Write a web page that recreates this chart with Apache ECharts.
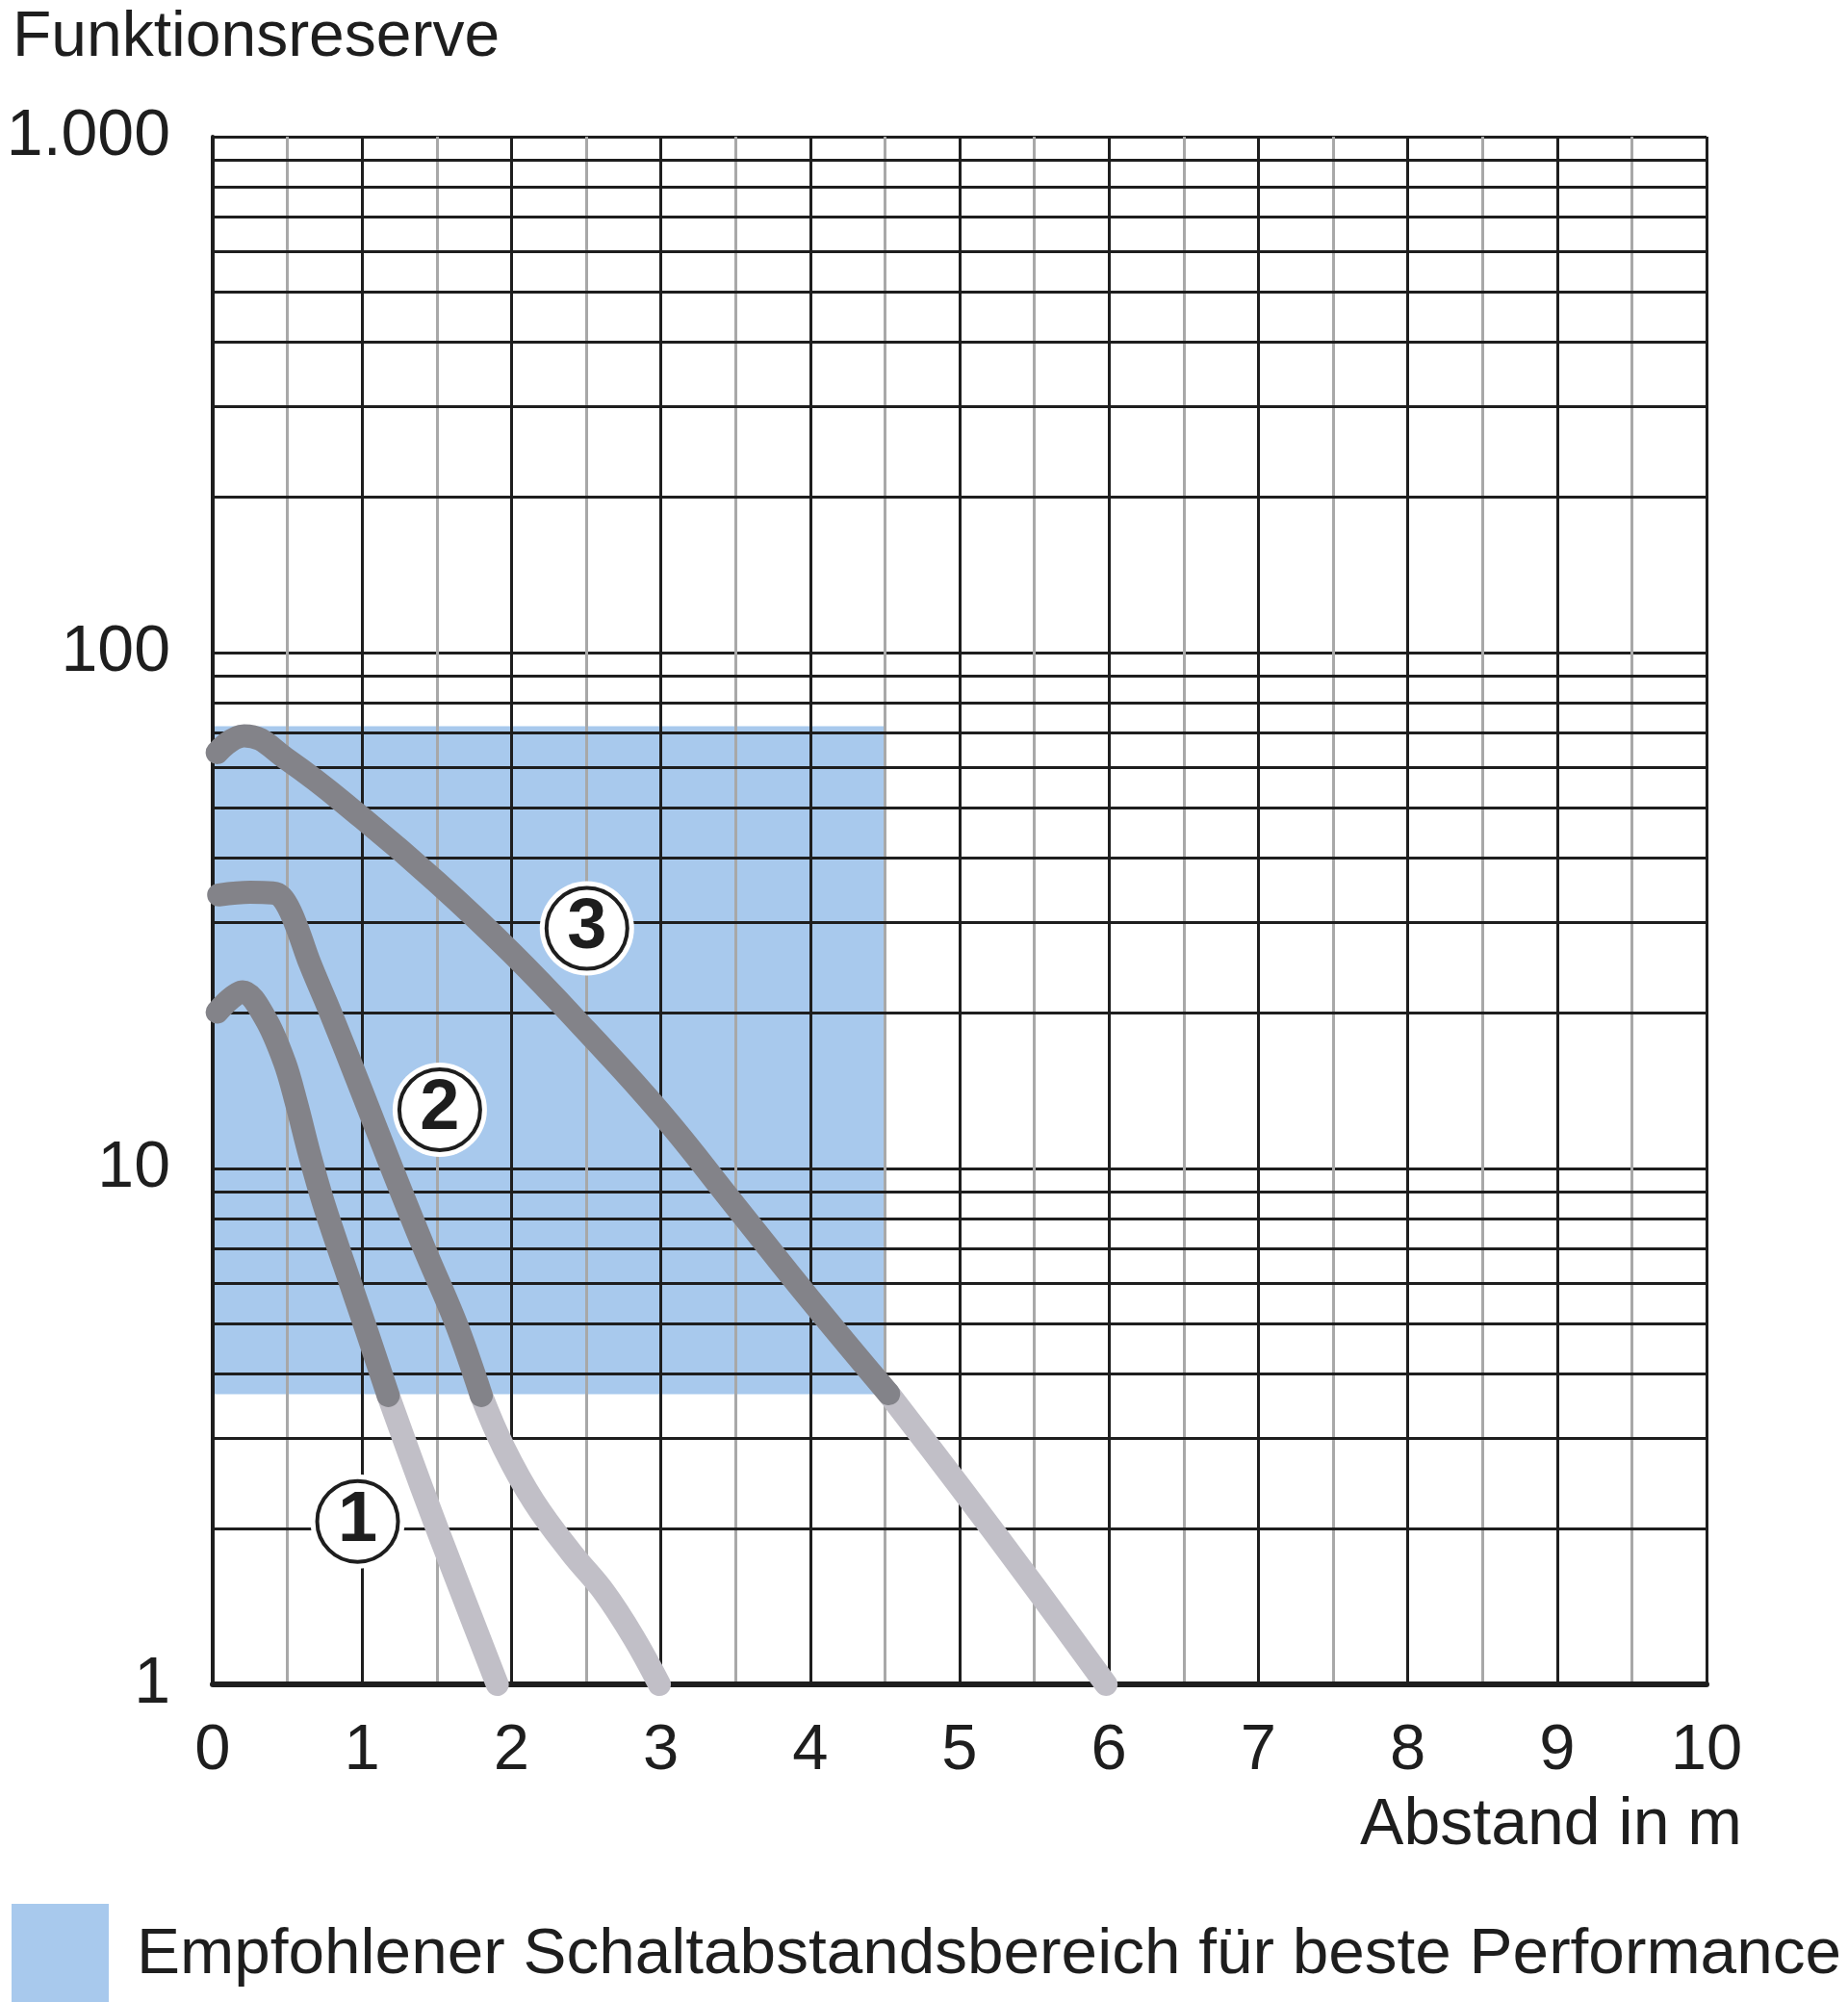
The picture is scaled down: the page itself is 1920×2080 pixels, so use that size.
<!DOCTYPE html>
<html>
<head>
<meta charset="utf-8">
<script src="https://cdn.jsdelivr.net/npm/echarts@6/dist/echarts.min.js"></script>
<style>
html,body{margin:0;padding:0;background:#fff;}
#chart{width:1920px;height:2080px;}
</style>
</head>
<body>
<div id="chart"></div>
<script>
// ---- data ----
const xTickValues = [0,1,2,3,4,5,6,7,8,9,10];
const yTickValues = [1, 10, 100, 1000];
const yTickLabels = ['1', '10', '100', '1.000'];
const yMinorGrid = [2,3,4,5,6,7,8,9,20,30,40,50,60,70,80,90,200,300,400,500,600,700,800,900];

// recommended range (blue area)
const blueX = [0, 4.5];
const blueY = [3.65, 72];

// curve 1
const curve1Dark  = [[0.03,20.1],[0.20,22.0],[0.35,19.6],[0.48,16.1],[0.56,13.4],[0.65,10.6],[0.74,8.6],[0.88,6.5],[1.03,4.85],[1.175,3.63]];
const curve1Light = [[1.175,3.63],[1.40,2.40],[1.65,1.55],[1.905,1.0]];
// curve 2
const curve2Dark  = [[0.04,33.9],[0.25,34.3],[0.40,34.2],[0.46,33.6],[0.52,31.5],[0.58,28.5],[0.65,25.0],[0.79,20.0],[0.99,14.3],[1.20,10.0],[1.416,7.0],[1.63,5.0],[1.798,3.63]];
const curve2Light = [[1.798,3.63],[1.95,2.87],[2.15,2.26],[2.40,1.80],[2.62,1.51],[2.82,1.23],[2.99,1.0]];
// curve 3
const curve3Dark  = [[0.03,64],[0.21,69],[0.5,62],[1.0,47.8],[1.5,35.9],[2.0,26.2],[2.5,18.5],[3.0,12.8],[3.5,8.45],[4.0,5.57],[4.525,3.66]];
const curve3Light = [[4.525,3.66],[5.0,2.42],[5.5,1.55],[5.98,1.0]];

// circled curve numbers
const curveLabels = [[0.97,2.07,'1'],[1.52,13.0,'2'],[2.505,29.2,'3']];

const legendName = 'Empfohlener Schaltabstandsbereich für beste Performance';

// ---- styles ----
const FONT = 'Liberation Sans';
const INK = '#1e1e1e';
const BLUE = '#a8c9ed';
const DARK = '#838389';
const LIGHT = '#c1bfc7';

function curveSeries(name, data, color, z, smooth) {
  return {
    type: 'line', name: name, data: data, smooth: smooth,
    symbol: 'none', clip: false, z: z, silent: true,
    lineStyle: { color: color, width: 24, cap: 'round', join: 'round' },
    emphasis: { disabled: true }
  };
}

const chart = echarts.init(document.getElementById('chart'), null, {renderer: 'canvas'});
chart.setOption({
  animation: false,
  backgroundColor: '#ffffff',
  textStyle: { fontFamily: FONT },
  title: [
    { text: 'Funktionsreserve', left: 8, top: 2,
      textStyle: { fontFamily: FONT, fontSize: 66, fontWeight: 'normal', color: INK } },
    { text: 'Abstand in m', right: 105, top: 1858,
      textStyle: { fontFamily: FONT, fontSize: 68, fontWeight: 'normal', color: INK } }
  ],
  legend: {
    left: 7, top: 1973, itemWidth: 101, itemHeight: 106, selectedMode: false,
    data: [{ name: legendName, icon: 'rect', itemStyle: { color: BLUE } }],
    textStyle: { fontFamily: FONT, fontSize: 67.5, color: INK, padding: [0, 0, 0, 24] }
  },
  grid: { left: 221, top: 142, width: 1552, height: 1608, containLabel: false, outerBoundsMode: 'none' },
  xAxis: {
    type: 'value', min: 0, max: 10, interval: 1, z: 3,
    axisLine: { show: true, onZero: false, lineStyle: { color: INK, width: 6 } },
    axisTick: { show: false },
    axisLabel: { fontFamily: FONT, fontSize: 67, color: INK, margin: 36,
      formatter: v => String(xTickValues[xTickValues.indexOf(Math.round(v))]) },
    splitLine: { show: true, lineStyle: { color: INK, width: 3 } },
    minorTick: { show: false, splitNumber: 2 },
    minorSplitLine: { show: true, lineStyle: { color: '#a8a8a8', width: 3 } }
  },
  yAxis: {
    type: 'log', logBase: 10, min: 1, max: 1000, z: 3,
    axisLine: { show: true, onZero: false, lineStyle: { color: INK, width: 4 } },
    axisTick: { show: false },
    axisLabel: { fontFamily: FONT, fontSize: 68, color: INK, margin: 44,
      formatter: v => { const i = yTickValues.indexOf(Math.round(v)); return i >= 0 ? yTickLabels[i] : ''; } },
    splitLine: { show: true, lineStyle: { color: INK, width: 3 } }
  },
  series: [
    {
      type: 'line', name: legendName, data: [[blueX[0], blueY[0]]], showSymbol: false, symbol: 'none',
      lineStyle: { width: 0 }, itemStyle: { color: BLUE }, z: 1, silent: true,
      markArea: {
        silent: true, itemStyle: { color: BLUE, opacity: 1 },
        data: [[{ coord: [blueX[0], blueY[0]] }, { coord: [blueX[1], blueY[1]] }]]
      }
    },
    {
      type: 'line', name: 'grid-minor', data: [], z: 3, silent: true, symbol: 'none',
      markLine: {
        silent: true, symbol: ['none', 'none'], label: { show: false },
        lineStyle: { type: 'solid', color: INK, width: 3 },
        emphasis: { disabled: true },
        data: yMinorGrid.map(v => ({ yAxis: v }))
      }
    },
    curveSeries('Kurve 1 außen', curve1Light, LIGHT, 5, 0.35),
    curveSeries('Kurve 2 außen', curve2Light, LIGHT, 5, 0.4),
    curveSeries('Kurve 3 außen', curve3Light, LIGHT, 5, 0.35),
    curveSeries('Kurve 1', curve1Dark, DARK, 6, 0.35),
    curveSeries('Kurve 2', curve2Dark, DARK, 6, 0.35),
    curveSeries('Kurve 3', curve3Dark, DARK, 6, 0.45),
    {
      type: 'scatter', name: 'halo', data: curveLabels, z: 7, clip: false, silent: true,
      symbol: 'circle', symbolSize: 98, itemStyle: { color: '#ffffff', opacity: 1 }
    },
    {
      type: 'scatter', name: 'nummer', data: curveLabels, z: 8, clip: false, silent: true,
      symbol: 'circle', symbolSize: 84,
      itemStyle: { color: '#ffffff', borderColor: INK, borderWidth: 4, opacity: 1 },
      label: { show: true, position: 'inside', formatter: p => p.value[2],
        fontFamily: FONT, fontWeight: 'bold', fontSize: 74, color: INK }
    }
  ]
});
</script>
</body>
</html>
